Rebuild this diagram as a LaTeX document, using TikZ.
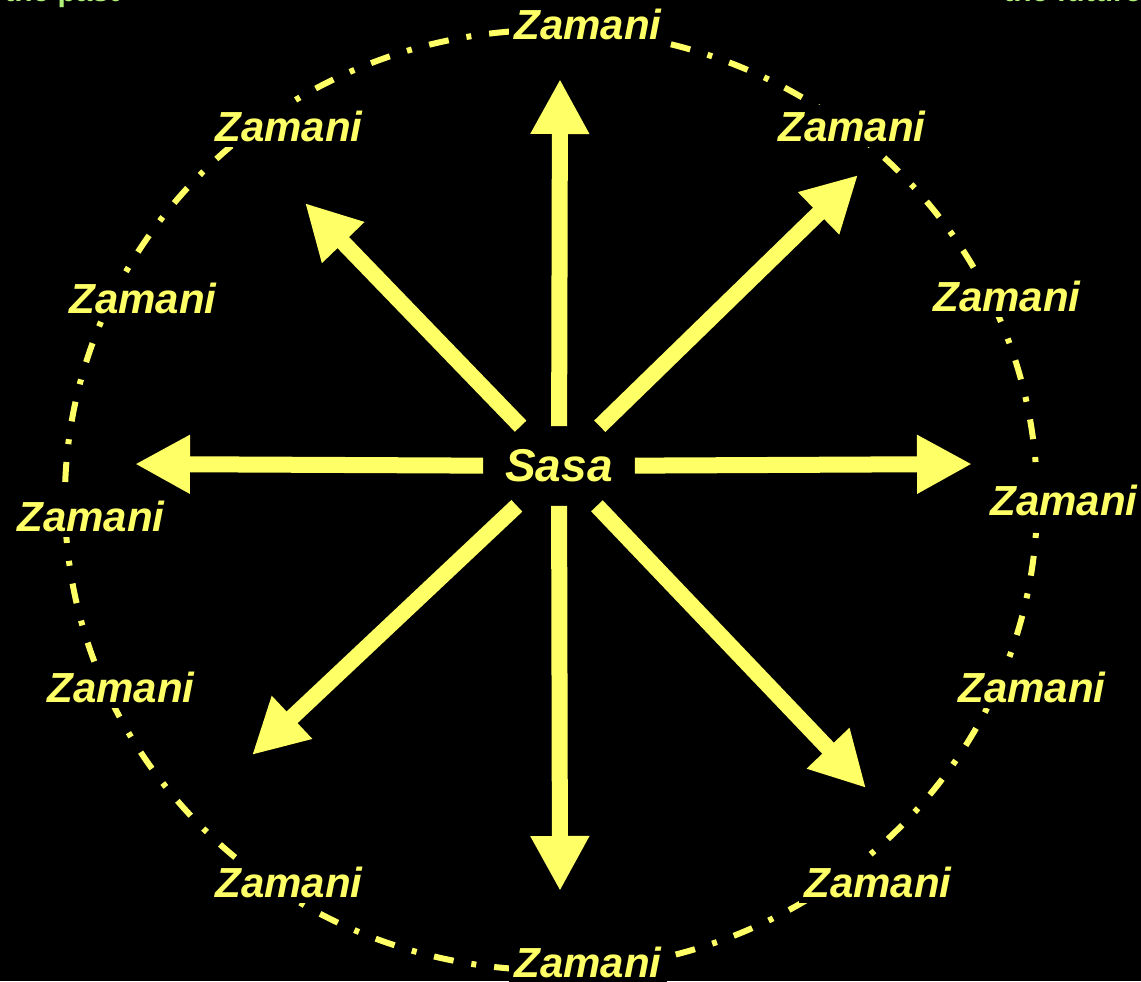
\documentclass[tikz,border=0pt]{standalone}
\usepackage{fontspec}
\setmainfont{Liberation Sans}
\usetikzlibrary{arrows.meta}
\definecolor{sunyellow}{RGB}{255,255,102}
\definecolor{palegreen}{RGB}{176,240,120}
\begin{document}
\begin{tikzpicture}[
  x=0.025cm, y=-0.025cm,
  zaman/.style={fill=black, text=sunyellow, inner sep=4pt, font=\fontsize{29.9}{36}\selectfont\bfseries\itshape},
  now/.style={rectangle, fill=black, text=sunyellow, minimum width=3.775cm, minimum height=1.975cm, inner sep=0pt, font=\fontsize{32.7}{38}\selectfont\bfseries\itshape},
  arrow/.style={-{Triangle[length=1.375cm, width=1.375cm]}, line width=0.4cm, color=sunyellow},
  ring/.style={draw=sunyellow, line width=0.15cm, dash pattern=on 0.5cm off 0.45cm on 0.125cm off 0.45cm},
  cut/.style={text=palegreen, inner sep=0pt, font=\fontsize{21.3}{26}\selectfont\bfseries}
]
  \fill[black] (0,0) rectangle (1141,981);
  \useasboundingbox (0,0) rectangle (1141,981);

  % half-hidden captions at the top edge
  \node[cut, anchor=base west] (past) at (4,1) {the past};
  \node[cut, anchor=base west] (future) at (1003,1) {the future};

  % the ring of Zamani
  \draw[ring] (551,500) ellipse [x radius=12.15cm, y radius=11.75cm];

  % arrow tips
  \coordinate (tipN) at (560,79);
  \coordinate (tipS) at (560,891);
  \coordinate (tipW) at (135,464);
  \coordinate (tipE) at (972,464);
  \coordinate (tipNW) at (305,203);
  \coordinate (tipNE) at (858,175);
  \coordinate (tipSW) at (252,755);
  \coordinate (tipSE) at (866,788);

  \node[now] (sasa) at (559,466) {Sasa};

  % Sasa -> Zamani
  \draw[arrow] (sasa) -- (tipN);
  \draw[arrow] (sasa) -- (tipS);
  \draw[arrow] (sasa) -- (tipW);
  \draw[arrow] (sasa) -- (tipE);
  \draw[arrow] (sasa) -- (tipNW);
  \draw[arrow] (sasa) -- (tipNE);
  \draw[arrow] (sasa) -- (tipSW);
  \draw[arrow] (sasa) -- (tipSE);

  % labels round the ring
  \node[zaman] (zN) at (588,24) {Zamani};
  \node[zaman] (zNW) at (289,126) {Zamani};
  \node[zaman] (zNE) at (852,126) {Zamani};
  \node[zaman] (zWN) at (143,298) {Zamani};
  \node[zaman] (zEN) at (1007,296) {Zamani};
  \node[zaman] (zW) at (91,516) {Zamani};
  \node[zaman] (zE) at (1064,500) {Zamani};
  \node[zaman] (zWS) at (121,687) {Zamani};
  \node[zaman] (zES) at (1032,687) {Zamani};
  \node[zaman] (zSW) at (289,882) {Zamani};
  \node[zaman] (zSE) at (878,882) {Zamani};
  \node[zaman] (zS) at (588,962) {Zamani};
\end{tikzpicture}
\end{document}
